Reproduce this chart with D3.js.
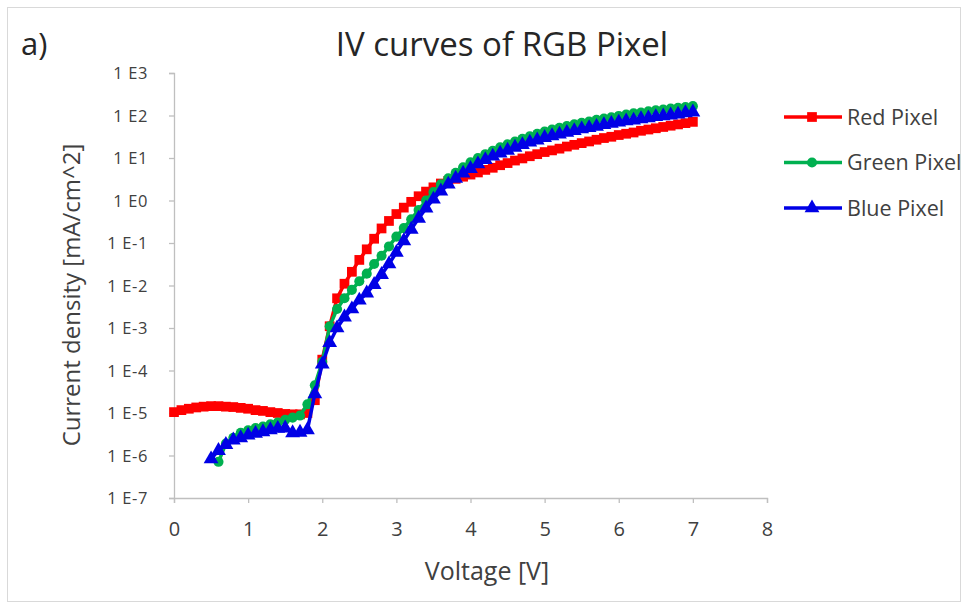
<!DOCTYPE html>
<html><head><meta charset="utf-8">
<script src="https://cdn.jsdelivr.net/npm/d3@7"></script>
<style>body{margin:0;background:#fff}svg{display:block}</style>
</head><body>
<svg id="chart" width="968" height="608"></svg>
<script>
const voltage = [0.0,0.1,0.2,0.3,0.4,0.5,0.6,0.7,0.8,0.9,1.0,1.1,1.2,1.3,1.4,1.5,1.6,1.7,1.8,1.9,2.0,2.1,2.2,2.3,2.4,2.5,2.6,2.7,2.8,2.9,3.0,3.1,3.2,3.3,3.4,3.5,3.6,3.7,3.8,3.9,4.0,4.1,4.2,4.3,4.4,4.5,4.6,4.7,4.8,4.9,5.0,5.1,5.2,5.3,5.4,5.5,5.6,5.7,5.8,5.9,6.0,6.1,6.2,6.3,6.4,6.5,6.6,6.7,6.8,6.9,7.0];
const redPixel = [1.05e-5,1.17e-5,1.26e-5,1.35e-5,1.41e-5,1.45e-5,1.45e-5,1.41e-5,1.38e-5,1.32e-5,1.26e-5,1.17e-5,1.12e-5,1.05e-5,1.0e-5,9.5e-6,9.3e-6,9.3e-6,1.0e-5,2.0e-5,1.8e-4,1.1e-3,5.0e-3,1.1e-2,2.1e-2,4.0e-2,7.1e-2,0.126,0.22,0.33,0.48,0.68,0.93,1.26,1.62,2.04,2.51,2.88,3.24,3.63,4.07,4.57,5.25,5.89,6.76,7.59,8.71,9.77,11.0,12.3,13.8,15.1,16.6,18.6,20.4,22.4,24.5,26.9,29.5,31.6,34.7,37.2,39.8,43.7,46.8,50.1,53.7,57.5,61.7,66.1,70.8];
const greenPixel = [null,null,null,null,null,null,7.1e-7,1.9e-6,2.6e-6,3.4e-6,3.9e-6,4.4e-6,4.8e-6,5.4e-6,6.0e-6,6.9e-6,7.8e-6,8.7e-6,1.6e-5,4.5e-5,1.6e-4,1.1e-3,2.8e-3,5.0e-3,7.9e-3,1.26e-2,1.9e-2,3.2e-2,5.0e-2,8.3e-2,0.141,0.224,0.363,0.60,1.0,1.58,2.4,3.31,4.47,6.03,7.94,10.0,12.3,14.8,17.8,20.9,24.5,28.2,32.4,37.2,41.7,46.8,51.3,56.2,61.7,67.6,72.4,79.4,85.1,91.2,97.7,105,112,117,126,132,138,145,151,158,166];
const bluePixel = [null,null,null,null,null,8.3e-7,1.3e-6,1.8e-6,2.3e-6,2.6e-6,3.0e-6,3.3e-6,3.6e-6,4.0e-6,4.3e-6,4.4e-6,3.4e-6,3.5e-6,4.0e-6,2.8e-5,1.4e-4,4.5e-4,1.0e-3,1.8e-3,2.8e-3,4.5e-3,6.6e-3,1.05e-2,1.8e-2,3.2e-2,6.0e-2,0.112,0.209,0.38,0.66,1.07,1.66,2.4,3.31,4.37,5.62,7.24,9.12,11.0,12.9,15.1,17.8,20.4,23.4,26.3,30.2,33.1,36.3,39.8,43.7,47.9,51.3,55.0,60.3,64.6,69.2,74.1,77.6,83.2,87.1,93.3,97.7,102,107,115,120];
const xTicks = [0,1,2,3,4,5,6,7,8];
const yTicks = [1e-7,1e-6,1e-5,1e-4,1e-3,1e-2,1e-1,1e0,1e1,1e2,1e3];
const yTickLabels = ["1 E-7","1 E-6","1 E-5","1 E-4","1 E-3","1 E-2","1 E-1","1 E0","1 E1","1 E2","1 E3"];
const seriesNames = ["Red Pixel","Green Pixel","Blue Pixel"];
const seriesColors = ["#ff0000","#00b050","#0000e6"];
const seriesShapes = ["square","circle","triangle"];

const svg = d3.select("#chart");
const font = "'Open Sans', sans-serif";
svg.append("rect").attr("x",7.5).attr("y",7.5).attr("width",953).attr("height",594)
  .attr("fill","#fff").attr("stroke","#d9d9d9").attr("stroke-width",1);

const L = 174, R = 767, T = 73, B = 498;
const x = d3.scaleLinear().domain([0,8]).range([L,R]);
const y = d3.scaleLog().domain([1e-7,1e3]).range([B,T]);

// axes
const xAxis = svg.append("g").attr("transform",`translate(0,${B})`)
  .call(d3.axisBottom(x).tickValues(xTicks).tickSize(5).tickPadding(19).tickFormat(d3.format("d")));
const yAxis = svg.append("g").attr("transform",`translate(${L},0)`)
  .call(d3.axisLeft(y).tickValues(yTicks).tickSize(5).tickPadding(21).tickFormat((d,i)=>yTickLabels[i]));
[xAxis,yAxis].forEach(g=>{
  g.select(".domain").attr("stroke","#bfbfbf").attr("stroke-width",1.3);
  g.selectAll(".tick line").attr("stroke","#bfbfbf").attr("stroke-width",1.3);
  g.selectAll(".tick text").attr("fill","#404040").attr("font-family",font);
});
xAxis.selectAll(".tick text").attr("font-size",20);
yAxis.selectAll(".tick text").attr("font-size",16.5).attr("letter-spacing","0.6px").attr("dy","0.35em");

// titles
svg.append("text").attr("x",21).attr("y",55).attr("font-family",font).attr("font-size",31).attr("fill","#262626").text("a)");
svg.append("text").attr("x",502).attr("y",56).attr("text-anchor","middle").attr("font-family",font).attr("font-size",33).attr("fill","#262626").text("IV curves of RGB Pixel");
svg.append("text").attr("x",487).attr("y",580).attr("text-anchor","middle").attr("font-family",font).attr("font-size",25).attr("fill","#404040").text("Voltage [V]");
svg.append("text").attr("transform","translate(80,295) rotate(-90)").attr("text-anchor","middle").attr("font-family",font).attr("font-size",24).attr("fill","#404040").text("Current density [mA/cm^2]");

const seriesData = [redPixel, greenPixel, bluePixel];
const symType = {square:d3.symbolSquare, circle:d3.symbolCircle, triangle:d3.symbolTriangle};
const symSize = {square:95, circle:80, triangle:95};
const line = d3.line().defined(d=>d[1]!=null).x(d=>x(d[0])).y(d=>y(d[1]));

seriesData.forEach((vals,i)=>{
  const pts = voltage.map((v,j)=>[v,vals[j]]);
  const g = svg.append("g");
  g.append("path").datum(pts).attr("d",line).attr("fill","none")
    .attr("stroke",seriesColors[i]).attr("stroke-width",3.5).attr("stroke-linejoin","round");
  g.selectAll("path.m").data(pts.filter(d=>d[1]!=null)).join("path").attr("class","m")
    .attr("transform",d=>`translate(${x(d[0])},${y(d[1])})`)
    .attr("d",d3.symbol().type(symType[seriesShapes[i]]).size(symSize[seriesShapes[i]]))
    .attr("fill",seriesColors[i]);
});

// legend
const lg = svg.append("g");
seriesNames.forEach((n,i)=>{
  const yy = 117 + i*45.5;
  lg.append("line").attr("x1",784).attr("x2",842).attr("y1",yy).attr("y2",yy)
    .attr("stroke",seriesColors[i]).attr("stroke-width",3.5);
  lg.append("path").attr("transform",`translate(812,${yy})`)
    .attr("d",d3.symbol().type(symType[seriesShapes[i]]).size(symSize[seriesShapes[i]]))
    .attr("fill",seriesColors[i]);
  lg.append("text").attr("x",847).attr("y",yy).attr("dy","0.35em").attr("font-family",font)
    .attr("font-size",21.5).attr("fill","#404040").text(n);
});
</script>
</body></html>
